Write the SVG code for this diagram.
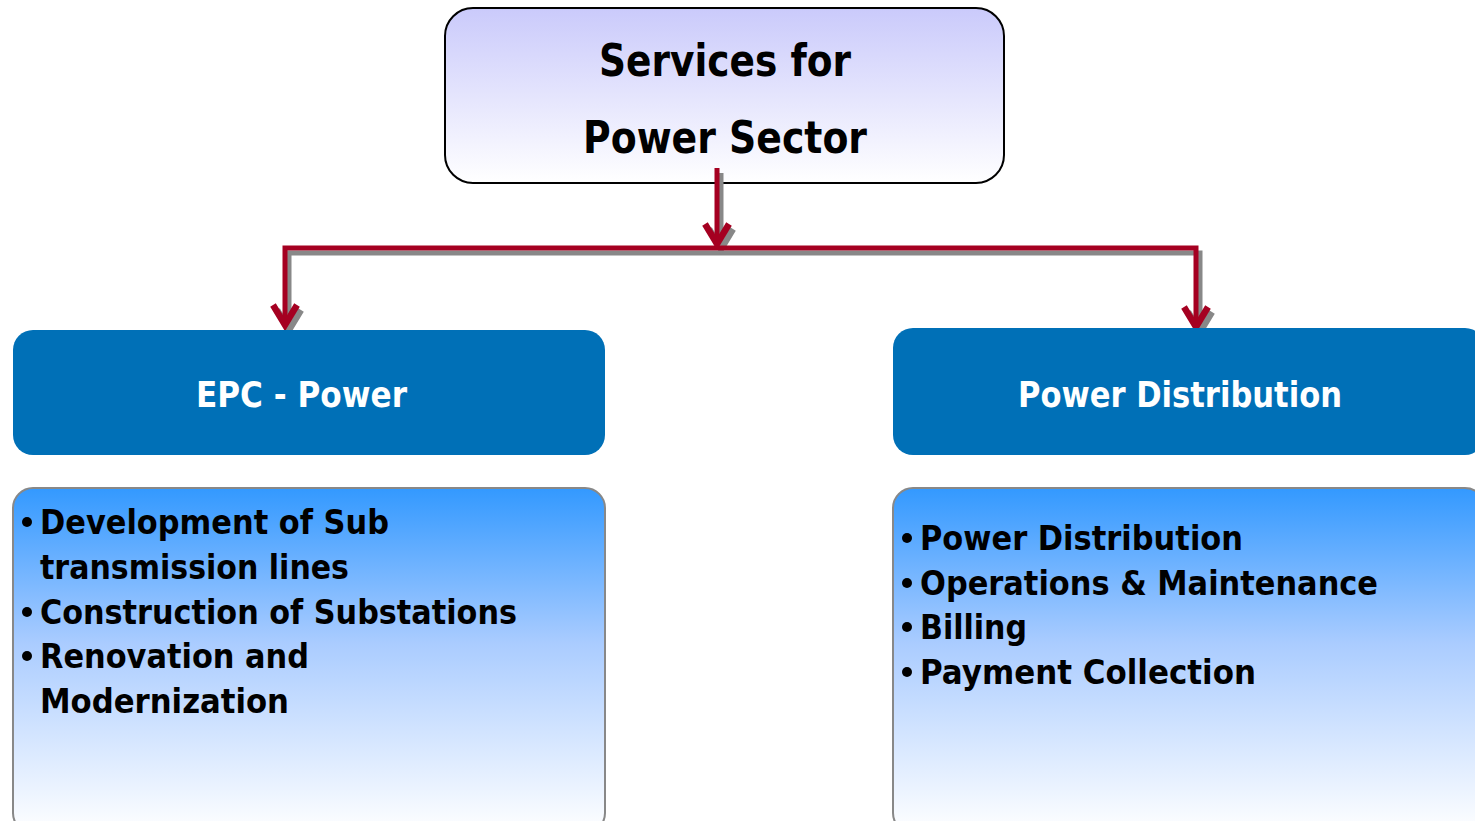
<svg xmlns="http://www.w3.org/2000/svg" width="1475" height="821" viewBox="0 0 1475 821">
<defs>
<linearGradient id="gTop" x1="0" y1="0" x2="0" y2="1">
<stop offset="0" stop-color="#CACAFB"/>
<stop offset="1" stop-color="#FFFFFF"/>
</linearGradient>
<linearGradient id="gList" x1="0" y1="0" x2="0" y2="1">
<stop offset="0" stop-color="#3399FF"/>
<stop offset="0.45" stop-color="#AACCFF"/>
<stop offset="1" stop-color="#FFFFFF"/>
</linearGradient>
<style>
.t{font-family:"DejaVu Sans","Liberation Sans",sans-serif;font-weight:bold}
.title{font-size:44px;fill:#000}
.head{font-size:35px;fill:#FFFFFF}
.item{font-size:34px;fill:#000}
.hbox{fill:#0070B7}
.lbox{fill:url(#gList);stroke:#888888;stroke-width:2}
.red{fill:none;stroke:#A50021;stroke-width:5;stroke-linejoin:miter}
.sh{fill:none;stroke:#888888;stroke-width:5;stroke-linejoin:miter}
.head-a{stroke-width:6.5}
.dot{fill:#000}
</style>
</defs>
<rect width="1475" height="821" fill="#FFFFFF"/>

<g id="node-top">
<rect x="445" y="8" width="559" height="175" rx="28" fill="url(#gTop)" stroke="#000" stroke-width="2"/>
<text class="t title" x="599" y="76" textLength="252" lengthAdjust="spacingAndGlyphs">Services for</text>
<text class="t title" x="583" y="153" textLength="284" lengthAdjust="spacingAndGlyphs">Power Sector</text>
</g>

<g id="connectors">
<g transform="translate(4,5)">
<path class="sh" d="M717,168 V245"/>
<path class="sh" d="M285,325 V248 H1196 V327"/>
<path class="sh head-a" d="M705,224 L717,244 L729,224 M273,305 L285,325 L297,305 M1184,307 L1196,327 L1208,307"/>
</g>
<path class="red" d="M717,168 V245"/>
<path class="red" d="M285,325 V248 H1196 V327"/>
<path class="red head-a" d="M705,224 L717,244 L729,224 M273,305 L285,325 L297,305 M1184,307 L1196,327 L1208,307"/>
</g>

<g id="node-epc">
<rect class="hbox" x="13" y="330" width="592" height="125" rx="20"/>
<text class="t head" x="196" y="407" textLength="211" lengthAdjust="spacingAndGlyphs">EPC - Power</text>
</g>

<g id="node-dist">
<rect class="hbox" x="893" y="328" width="592" height="127" rx="20"/>
<text class="t head" x="1018" y="407" textLength="324" lengthAdjust="spacingAndGlyphs">Power Distribution</text>
</g>

<g id="list-epc">
<rect class="lbox" x="13" y="488" width="592" height="345" rx="20"/>
<circle class="dot" cx="27" cy="522" r="5"/>
<circle class="dot" cx="27" cy="612" r="5"/>
<circle class="dot" cx="27" cy="656" r="5"/>
<text class="t item" x="40" y="534" textLength="349" lengthAdjust="spacingAndGlyphs">Development of Sub</text>
<text class="t item" x="40" y="579" textLength="309" lengthAdjust="spacingAndGlyphs">transmission lines</text>
<text class="t item" x="40" y="624" textLength="477" lengthAdjust="spacingAndGlyphs">Construction of Substations</text>
<text class="t item" x="40" y="668" textLength="269" lengthAdjust="spacingAndGlyphs">Renovation and</text>
<text class="t item" x="40" y="713" textLength="249" lengthAdjust="spacingAndGlyphs">Modernization</text>
</g>

<g id="list-dist">
<rect class="lbox" x="893" y="488" width="592" height="345" rx="20"/>
<circle class="dot" cx="907" cy="538" r="5"/>
<circle class="dot" cx="907" cy="583" r="5"/>
<circle class="dot" cx="907" cy="627" r="5"/>
<circle class="dot" cx="907" cy="672" r="5"/>
<text class="t item" x="920" y="550" textLength="323" lengthAdjust="spacingAndGlyphs">Power Distribution</text>
<text class="t item" x="920" y="595" textLength="458" lengthAdjust="spacingAndGlyphs">Operations &amp; Maintenance</text>
<text class="t item" x="920" y="639" textLength="107" lengthAdjust="spacingAndGlyphs">Billing</text>
<text class="t item" x="920" y="684" textLength="336" lengthAdjust="spacingAndGlyphs">Payment Collection</text>
</g>
</svg>
